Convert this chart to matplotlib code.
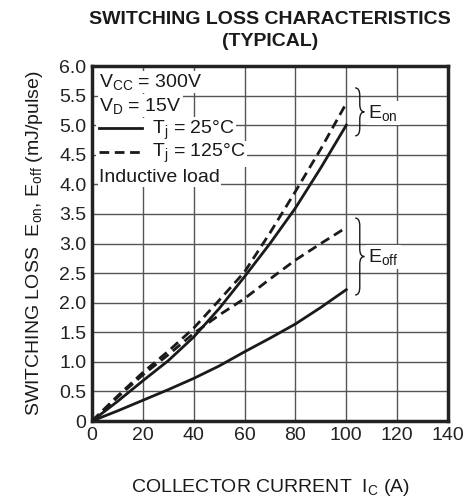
import matplotlib
matplotlib.use("Agg")
import matplotlib.pyplot as plt
from matplotlib.path import Path
from matplotlib.patches import PathPatch

plt.rcParams['font.family'] = ['Liberation Sans', 'DejaVu Sans']
plt.rcParams['mathtext.default'] = 'regular'

ic = [0, 10, 20, 30, 40, 50, 60, 70, 80, 90, 100]
eon_25 = [0, 0.33, 0.68, 1.02, 1.42, 1.9, 2.44, 3.0, 3.6, 4.28, 5.0]
eon_125 = [0, 0.42, 0.82, 1.18, 1.57, 2.04, 2.52, 3.18, 3.88, 4.6, 5.37]
eoff_125 = [0, 0.4, 0.78, 1.12, 1.48, 1.79, 2.07, 2.4, 2.72, 3.0, 3.27]
eoff_25 = [0, 0.17, 0.35, 0.53, 0.72, 0.93, 1.17, 1.4, 1.64, 1.92, 2.22]

xticks = [0, 20, 40, 60, 80, 100, 120, 140]
yticks = [0, 0.5, 1.0, 1.5, 2.0, 2.5, 3.0, 3.5, 4.0, 4.5, 5.0, 5.5, 6.0]
ytick_labels = ['0', '0.5', '1.0', '1.5', '2.0', '2.5', '3.0', '3.5', '4.0', '4.5', '5.0', '5.5', '6.0']

fig = plt.figure(figsize=(4.67, 4.98), dpi=100)
ax = fig.add_axes([92/467, 77/498, 356/467, 355/498])

fs = 14
ax.set_xlim(0, 140)
ax.set_ylim(0, 6)
ax.set_xticks(xticks)
ax.set_yticks(yticks)
ax.set_yticklabels(ytick_labels)
ax.tick_params(direction='in', length=0, labelsize=fs, pad=4, colors='#222222')
ax.grid(True, color='#555555', linewidth=1.0)
ax.set_axisbelow(True)
for s in ax.spines.values():
    s.set_linewidth(2.5)
    s.set_color('#222222')

lw = 2.0
c = '#1a1a1a'
ax.plot(ic, eon_25, color=c, lw=lw, zorder=3)
ax.plot(ic, eon_125, color=c, lw=lw, ls=(0, (3.5, 2)), zorder=3)
ax.plot(ic, eoff_125, color=c, lw=lw, ls=(0, (3.5, 2)), zorder=3)
ax.plot(ic, eoff_25, color=c, lw=lw, zorder=3)

bb = dict(facecolor='white', edgecolor='none', pad=1.0)
ax.text(2.8, 5.73, 'V$_{CC}$ = 300V', fontsize=fs, va='center', ha='left', bbox=bb, zorder=4, color=c)
ax.text(2.8, 5.33, 'V$_{D}$ = 15V', fontsize=fs, va='center', ha='left', bbox=bb, zorder=4, color=c)
ax.text(23.5, 4.92, 'T$_{j}$ = 25°C', fontsize=fs, va='center', ha='left', bbox=bb, zorder=4, color=c)
ax.text(23.5, 4.52, 'T$_{j}$ = 125°C', fontsize=fs, va='center', ha='left', bbox=bb, zorder=4, color=c)
ax.text(2.8, 4.12, 'Inductive load', fontsize=fs, va='center', ha='left', bbox=bb, zorder=4, color=c)
# legend line samples
ax.fill_between([1.5, 23.5], 4.3, 5.12, color='white', zorder=3.5, lw=0)
ax.plot([2.9, 19.7], [4.95, 4.95], color=c, lw=lw, zorder=4)
ax.plot([2.9, 19.7], [4.55, 4.55], color=c, lw=lw, ls=(0, (3.5, 2)), zorder=4)


def brace(x0, ymin, ymax, w=3.6, r=0.13):
    ym = (ymin + ymax) / 2
    xm = x0 + w / 2
    verts = [(x0, ymax), (xm, ymax), (xm, ymax - r),
             (xm, ym + r), (xm, ym), (x0 + w, ym),
             (xm, ym), (xm, ym - r),
             (xm, ymin + r), (xm, ymin), (x0, ymin)]
    codes = [Path.MOVETO, Path.CURVE3, Path.CURVE3,
             Path.LINETO, Path.CURVE3, Path.CURVE3,
             Path.CURVE3, Path.CURVE3,
             Path.LINETO, Path.CURVE3, Path.CURVE3]
    ax.add_patch(PathPatch(Path(verts, codes), fill=False, lw=1.0, color=c, zorder=4))


brace(103.5, 4.82, 5.63)
brace(103.5, 2.13, 3.43)
ax.text(108.5, 5.2, 'E$_{on}$', fontsize=fs, va='center', ha='left', bbox=dict(facecolor='white', edgecolor='none', pad=1.5), zorder=4, color=c)
ax.text(108.5, 2.77, 'E$_{off}$', fontsize=fs, va='center', ha='left', bbox=dict(facecolor='white', edgecolor='none', pad=1.5), zorder=4, color=c)

ax.set_xlabel('COLLECTOR CURRENT  I$_{C}$ (A)', fontsize=fs, labelpad=24, color=c)
ax.set_ylabel('SWITCHING LOSS  E$_{on}$, E$_{off}$ (mJ/pulse)', fontsize=fs, labelpad=10, color=c)
fig.text(270/467, 1 - 19/498, 'SWITCHING LOSS CHARACTERISTICS', fontsize=14, fontweight='bold', ha='center', va='center', color=c)
fig.text(270/467, 1 - 42/498, '(TYPICAL)', fontsize=14, fontweight='bold', ha='center', va='center', color=c)

fig.savefig('out.png', dpi=100)
